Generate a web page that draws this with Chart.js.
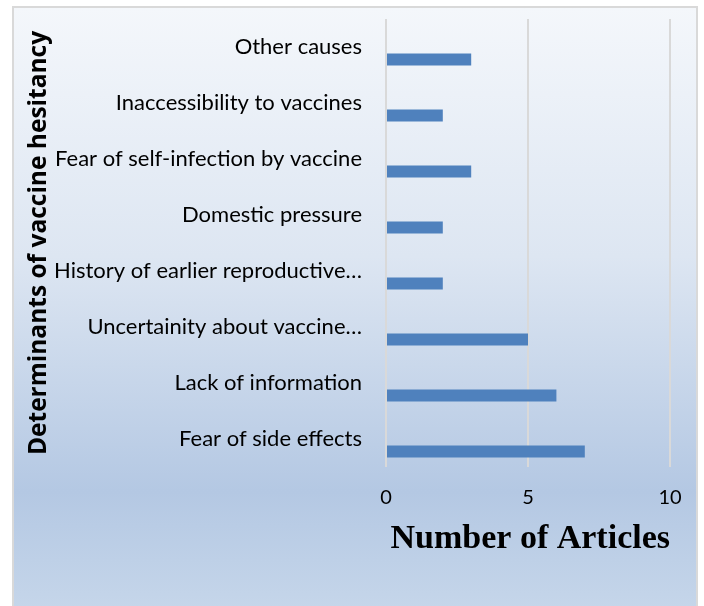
<!DOCTYPE html>
<html>
<head>
<meta charset="utf-8">
<script src="https://cdn.jsdelivr.net/npm/chart.js"></script>
<style>
  html, body { margin: 0; padding: 0; background: #ffffff; }
  #frame {
    position: absolute;
    left: 12px; top: 6px;
    width: 682px; height: 620px;
    border: 2px solid #d9d9d9;
    background: linear-gradient(180deg, #f4f7fb 0%, #dde6f2 40%, #b4c8e3 78%, #c8d8eb 100%);
  }
  #wrap { position: absolute; left: 0; top: 0; width: 704px; height: 606px; }
</style>
</head>
<body>
<div id="frame"></div>
<div id="wrap"><canvas id="chart"></canvas></div>
<script>
// categories, top to bottom as shown
const categories = [
  "Other causes",
  "Inaccessibility to vaccines",
  "Fear of self-infection by vaccine",
  "Domestic pressure",
  "History of earlier reproductive\u2026",
  "Uncertainity about vaccine\u2026",
  "Lack of information",
  "Fear of side effects"
];
const articleCounts = [3, 2, 3, 2, 2, 5, 6, 7];
// the empty second series of the original sheet (keeps bars in the lower half of each row)
const emptySeries = [];
const xTicks = [0, 5, 10];

const labelFont = "Lato, 'Open Sans', sans-serif";

new Chart(document.getElementById("chart").getContext("2d"), {
  type: "bar",
  data: {
    labels: categories,
    datasets: [
      { label: "", data: emptySeries, backgroundColor: "rgba(0,0,0,0)" },
      {
        label: "Number of Articles",
        data: articleCounts,
        backgroundColor: "#4f81bd",
        borderWidth: 0
      }
    ]
  },
  options: {
    indexAxis: "y",
    responsive: true,
    maintainAspectRatio: false,
    animation: false,
    categoryPercentage: 0.89,
    barPercentage: 0.48,
    layout: { padding: { top: 19, right: 34, bottom: 0, left: 0 } },
    plugins: {
      legend: { display: false },
      tooltip: { enabled: false }
    },
    scales: {
      x: {
        min: 0,
        max: 10,
        afterBuildTicks: function (scale) {
          scale.ticks = xTicks.map(function (v) { return { value: v }; });
        },
        afterFit: function (scale) { scale.height = 139; },
        grid: { color: "#d9d9d9", lineWidth: 2, drawTicks: false },
        border: { display: false },
        ticks: {
          padding: 19,
          color: "#000000",
          font: { family: labelFont, size: 20 }
        },
        title: {
          display: true,
          text: "Number of Articles",
          align: "end",
          color: "#000000",
          font: { family: "'Liberation Serif', serif", size: 34, weight: "bold" },
          padding: { top: 0, bottom: 46 }
        }
      },
      y: {
        afterFit: function (scale) {
          scale.width = 386;
          // label gap is not meant to push the plot area down
          scale.paddingTop = 0;
          scale.paddingBottom = 0;
        },
        grid: { display: false, drawTicks: false },
        border: { display: false },
        ticks: {
          padding: 24,
          color: "#000000",
          autoSkip: false,
          font: { family: labelFont, size: 22 }
        },
        title: {
          display: true,
          text: "Determinants of vaccine hesitancy",
          color: "#000000",
          font: { family: "'Open Sans', sans-serif", size: 24.5, weight: "bold" },
          padding: { top: 24, bottom: 0 }
        }
      }
    }
  }
});
</script>
</body>
</html>
